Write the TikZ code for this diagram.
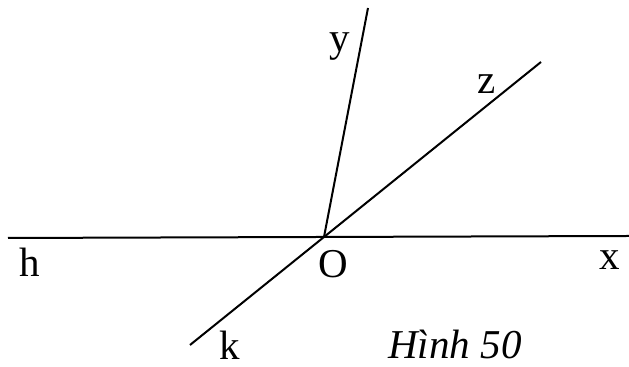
\documentclass[tikz,border=0pt]{standalone}
\usepackage{fontspec}
\setmainfont{Liberation Serif}
\begin{document}
\begin{tikzpicture}[x=0.5pt, y=-0.5pt, line width=1pt,
  every node/.style={font=\fontsize{20.5}{24}\selectfont, inner sep=0pt}]
  \useasboundingbox (0,0) rectangle (629,367);
  \coordinate (O) at (324,237);
  \coordinate (h) at (8,238);
  \coordinate (x) at (629,236);
  \coordinate (y) at (368,8);
  \coordinate (z) at (541,62);
  \coordinate (k) at (190,345);
  \draw (h) -- (x);
  \draw (O) -- (y);
  \draw (k) -- (O) -- (z);
  \node (labh) at (30,262) {h};
  \node (labO) at (333,264) {O};
  \node (labx) at (610,260) {x};
  \node (laby) at (340,47) {y};
  \node (labz) at (487,84) {z};
  \node (labk) at (230,345) {k};
  \node (cap) at (455,344) {\itshape Hình 50};
\end{tikzpicture}
\end{document}
